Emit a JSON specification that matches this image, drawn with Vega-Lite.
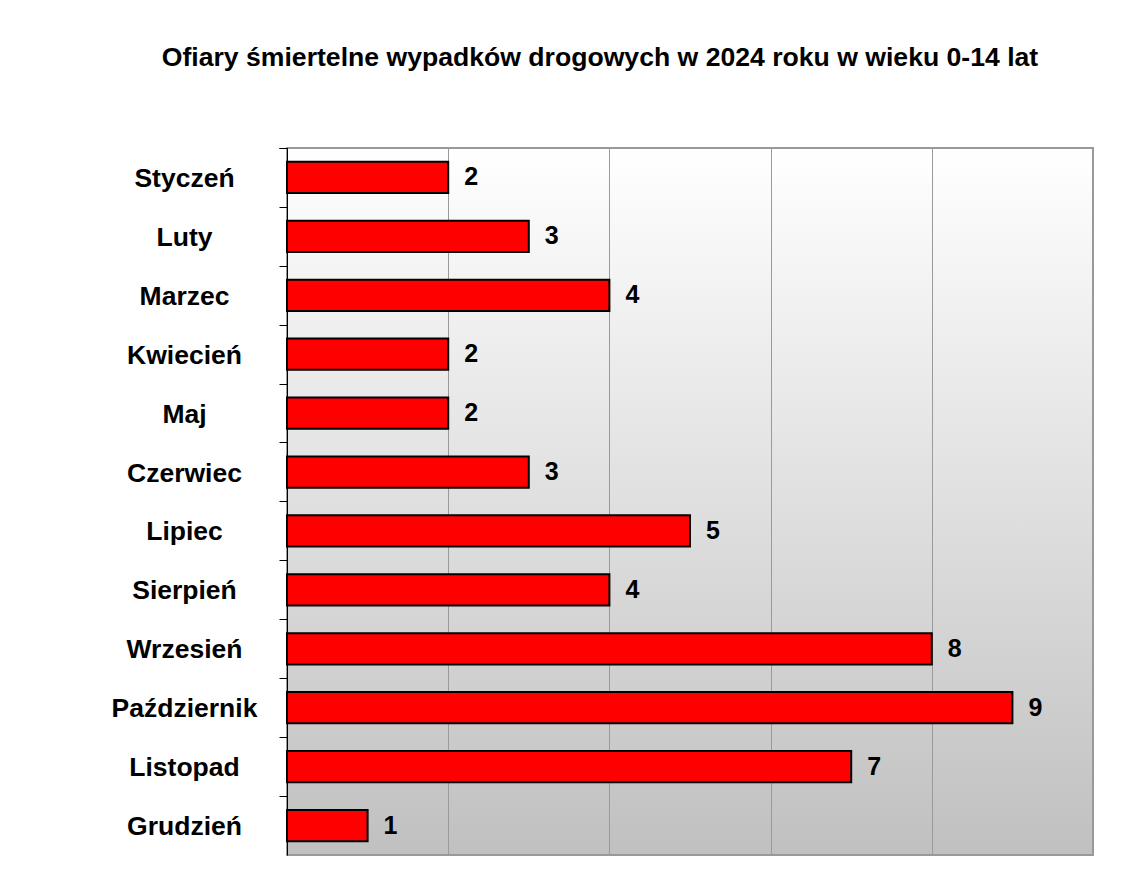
{
  "$schema": "https://vega.github.io/schema/vega-lite/v6.json",
  "width": 806,
  "height": 707,
  "autosize": {"type": "none"},
  "padding": {"left": 287, "top": 148, "right": 28, "bottom": 21},
  "background": "white",
  "title": {
    "text": "Ofiary śmiertelne wypadków drogowych w 2024 roku w wieku 0-14 lat",
    "font": "Liberation Sans",
    "fontSize": 26.6,
    "fontWeight": "bold",
    "color": "black",
    "anchor": "middle",
    "baseline": "alphabetic",
    "dx": -90,
    "offset": 42
  },
  "config": {
    "view": {
      "stroke": "#999999",
      "strokeWidth": 2,
      "fill": {
        "gradient": "linear",
        "x1": 0, "y1": 0, "x2": 0, "y2": 1,
        "stops": [
          {"offset": 0, "color": "#ffffff"},
          {"offset": 1, "color": "#c0c0c0"}
        ]
      }
    }
  },
  "data": {
    "values": [
      {"miesiac": "Styczeń", "liczba": 2},
      {"miesiac": "Luty", "liczba": 3},
      {"miesiac": "Marzec", "liczba": 4},
      {"miesiac": "Kwiecień", "liczba": 2},
      {"miesiac": "Maj", "liczba": 2},
      {"miesiac": "Czerwiec", "liczba": 3},
      {"miesiac": "Lipiec", "liczba": 5},
      {"miesiac": "Sierpień", "liczba": 4},
      {"miesiac": "Wrzesień", "liczba": 8},
      {"miesiac": "Październik", "liczba": 9},
      {"miesiac": "Listopad", "liczba": 7},
      {"miesiac": "Grudzień", "liczba": 1}
    ]
  },
  "layer": [
    {
      "mark": {"type": "bar", "color": "#ff0000", "stroke": "black", "strokeWidth": 2, "opacity": 1},
      "encoding": {
        "y": {
          "field": "miesiac",
          "type": "nominal",
          "sort": null,
          "scale": {"paddingInner": 0.47, "paddingOuter": 0.235},
          "axis": {
            "title": null,
            "domainColor": "black",
            "domainWidth": 1,
            "tickColor": "black",
            "tickWidth": 1,
            "tickSize": 8,
            "bandPosition": 0,
            "tickExtra": true,
            "tickOffset": -14,
            "labelOffset": 15,
            "labelAlign": "center",
            "labelBaseline": "middle",
            "labelPadding": 95,
            "labelFont": "Liberation Sans",
            "labelFontSize": 26.5,
            "labelFontWeight": "bold",
            "labelColor": "black",
            "grid": false
          }
        },
        "x": {
          "field": "liczba",
          "type": "quantitative",
          "scale": {"domain": [0, 10], "nice": false},
          "axis": {
            "title": null,
            "labels": false,
            "ticks": false,
            "domain": false,
            "grid": true,
            "gridColor": "#9a9a9a",
            "gridWidth": 1,
            "values": [0, 2, 4, 6, 8, 10]
          }
        }
      }
    },
    {
      "mark": {
        "type": "text",
        "align": "left",
        "baseline": "middle",
        "dx": 16,
        "font": "Liberation Sans",
        "fontSize": 25,
        "fontWeight": "bold",
        "color": "black"
      },
      "encoding": {
        "y": {"field": "miesiac", "type": "nominal", "sort": null},
        "x": {"field": "liczba", "type": "quantitative"},
        "text": {"field": "liczba", "type": "quantitative"}
      }
    }
  ]
}
